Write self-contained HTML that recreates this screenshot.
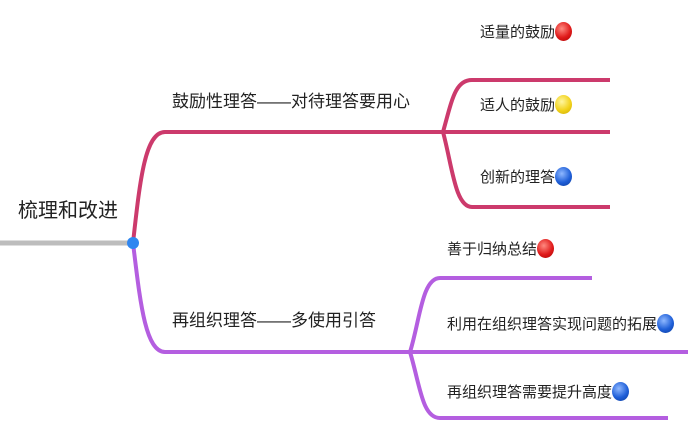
<!DOCTYPE html>
<html><head><meta charset="utf-8"><style>
body{margin:0;width:688px;height:427px;background:#fff;overflow:hidden;position:relative;font-family:"Liberation Sans","Noto Sans CJK SC",sans-serif;color:#222}
.t{position:absolute;white-space:nowrap;line-height:1}
.d{display:inline-block;width:17px;height:19px;border-radius:50%;vertical-align:-4px;margin-left:0px}
.r{background:radial-gradient(circle at 40% 35%,#ff8a80,#e01b1b 55%,#a00)}
.y{background:radial-gradient(circle at 40% 35%,#fff6a0,#f2d21a 55%,#c9a800)}
.b{background:radial-gradient(circle at 40% 35%,#8fb8ff,#1f5fd8 55%,#0b3a99)}
</style></head><body>
<svg width="688" height="427" style="position:absolute;left:0;top:0" fill="none">
<line x1="0" y1="243" x2="133" y2="243" stroke="#bdbdbd" stroke-width="5"/>
<g stroke="#cc3a6c" stroke-width="4">
<path d="M133 243 C140 180 145 132 165 132 L445 132"/>
<path d="M443 132 C452 100 455 80 472 80 L610 80"/>
<path d="M443 132 L610 132"/>
<path d="M443 132 C452 165 455 207 472 207 L610 207"/>
</g>
<g stroke="#b45ee0" stroke-width="4">
<path d="M133 243 C140 300 145 352 165 352 L688 352"/>
<path d="M410 352 C420 320 422 278 440 278 L592 278"/>
<path d="M410 352 C420 385 422 418 440 418 L668 418"/>
</g>
<circle cx="133" cy="243" r="6" fill="#2f86f0"/>
</svg>
<div class="t" style="left:18px;top:201px;font-size:20px">梳理和改进</div>
<div class="t" style="left:172px;top:93px;font-size:17px">鼓励性理答——对待理答要用心</div>
<div class="t" style="left:172px;top:312px;font-size:17px">再组织理答——多使用引答</div>
<div class="t" style="left:480px;top:22px;font-size:15px">适量的鼓励<span class="d r"></span></div>
<div class="t" style="left:480px;top:95px;font-size:15px">适人的鼓励<span class="d y"></span></div>
<div class="t" style="left:480px;top:167px;font-size:15px">创新的理答<span class="d b"></span></div>
<div class="t" style="left:447px;top:239px;font-size:15px">善于归纳总结<span class="d r"></span></div>
<div class="t" style="left:447px;top:314px;font-size:15px">利用在组织理答实现问题的拓展<span class="d b"></span></div>
<div class="t" style="left:447px;top:382px;font-size:15px">再组织理答需要提升高度<span class="d b"></span></div>
</body></html>
